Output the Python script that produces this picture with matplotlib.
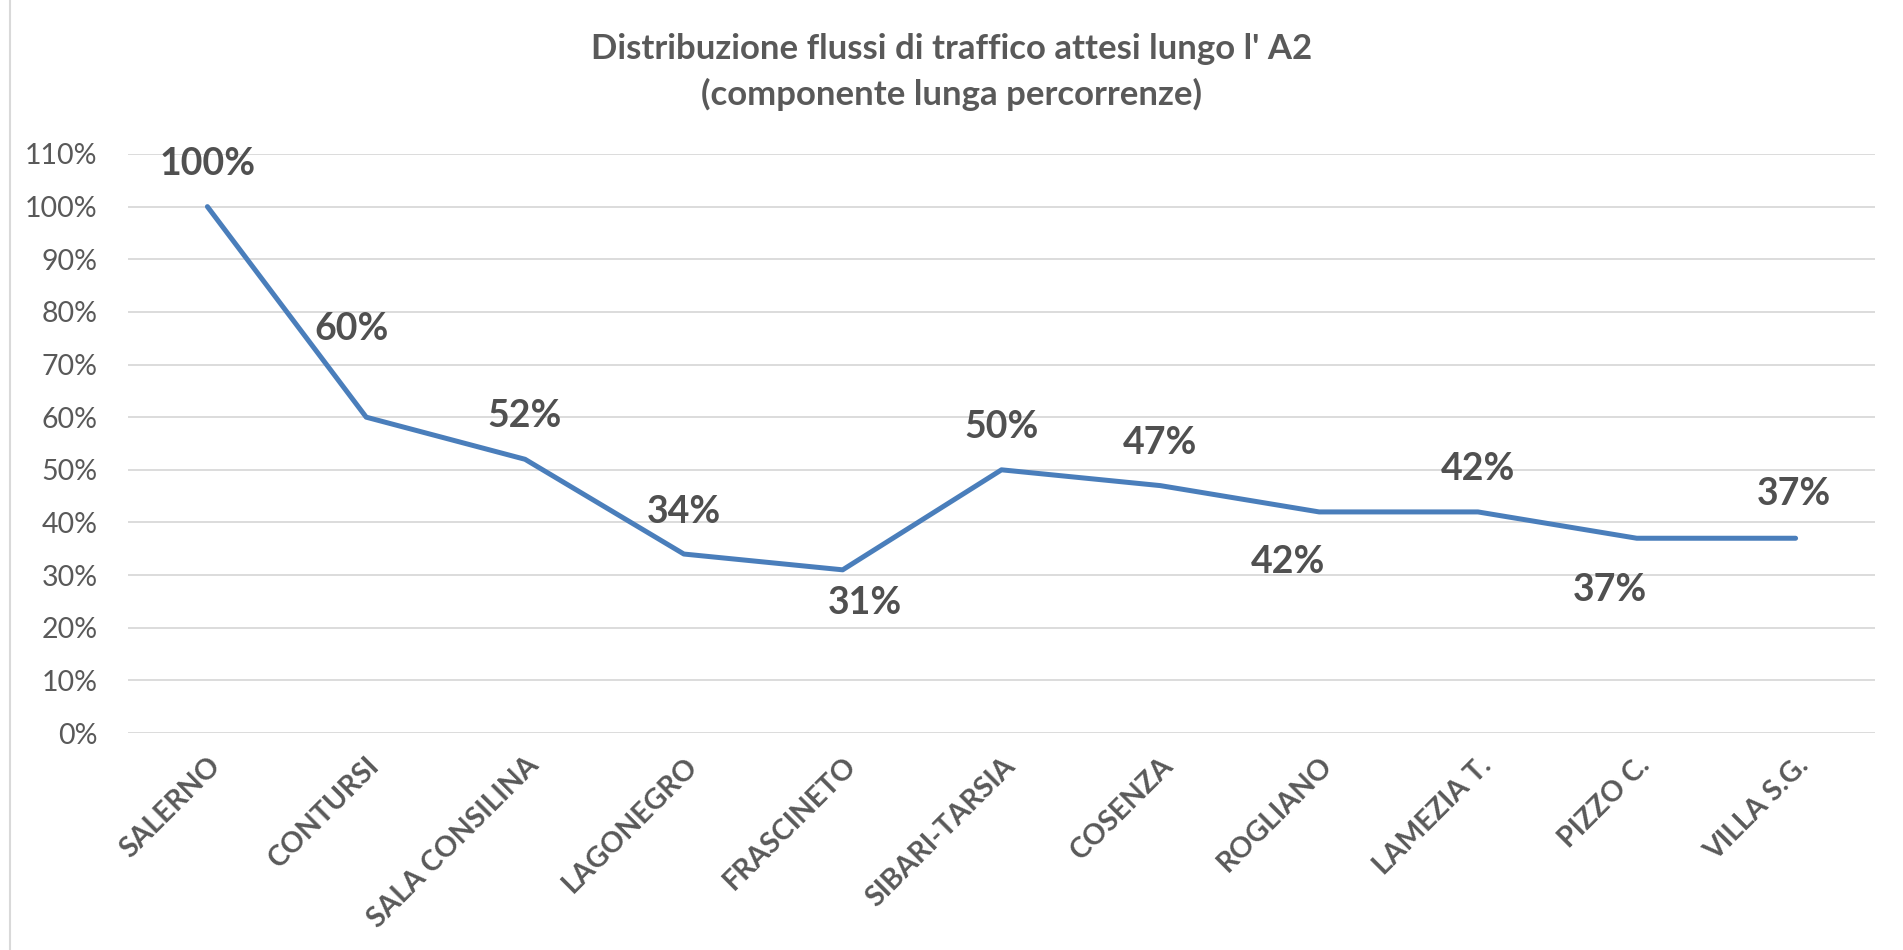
import matplotlib
matplotlib.use("Agg")
import numpy as np
import matplotlib.pyplot as plt
from matplotlib.lines import Line2D
from matplotlib.ticker import PercentFormatter

plt.rcParams['font.family'] = ['Lato', 'DejaVu Sans']

caselli = ["SALERNO", "CONTURSI", "SALA CONSILINA", "LAGONEGRO", "FRASCINETO",
           "SIBARI-TARSIA", "COSENZA", "ROGLIANO", "LAMEZIA T.", "PIZZO C.", "VILLA S.G."]
flussi = [1.00, 0.60, 0.52, 0.34, 0.31, 0.50, 0.47, 0.42, 0.42, 0.37, 0.37]
y_ticks = np.arange(0, 1.11, 0.10)

# label offsets in pixels (dx, dy), as placed in the original chart
label_offsets = [(0, 43), (-15, 88), (0, 43), (0, 42), (22, -33), (0, 43),
                 (0, 43), (-31, -50), (0, 43), (-27, -52), (-2, 44)]

grey = '#595959'
blue = '#4a7ebb'

fig = plt.figure(figsize=(19.03, 9.50), dpi=100)
ax = fig.add_axes([128 / 1903, 1 - 733 / 950, (1875 - 128) / 1903, (733 - 154) / 950])

x = np.arange(len(caselli))
ax.plot(x, flussi, color=blue, linewidth=3.6, solid_capstyle='round', solid_joinstyle='round', zorder=3)

for xi, v, (dx, dy) in zip(x, flussi, label_offsets):
    ax.annotate(f"{v * 100:.0f}%", (xi, v), xytext=(dx, dy), textcoords='offset pixels',
                ha='center', va='center', fontsize=27, fontweight='bold', color='#505050')

ax.set_xlim(-0.5, len(caselli) - 0.5)
ax.set_ylim(0, 1.1)
ax.set_yticks(y_ticks)
ax.yaxis.set_major_formatter(PercentFormatter(1.0, decimals=0))
ax.set_xticks(x)
ax.set_xticklabels(caselli, rotation=45, ha='right', rotation_mode='anchor',
                   fontsize=20.5, fontweight='bold', color=grey)
ax.tick_params(axis='x', length=0, pad=14)
ax.tick_params(axis='y', length=0, pad=22, labelsize=20.5, labelcolor=grey)
ax.grid(axis='y', color='#d9d9d9', linewidth=1.3)
ax.set_axisbelow(True)
for s in ax.spines.values():
    s.set_visible(False)

fig.text(0.5, 1 - 72 / 950, "Distribuzione flussi di traffico attesi lungo l' A2\n(componente lunga percorrenze)",
         ha='center', va='center', fontsize=25, fontweight='bold', color=grey, linespacing=1.5)

fig.add_artist(Line2D([10 / 1903, 10 / 1903], [0, 1], transform=fig.transFigure, color='#d9d9d9', linewidth=1.5))

fig.savefig("out.png", dpi=100)
